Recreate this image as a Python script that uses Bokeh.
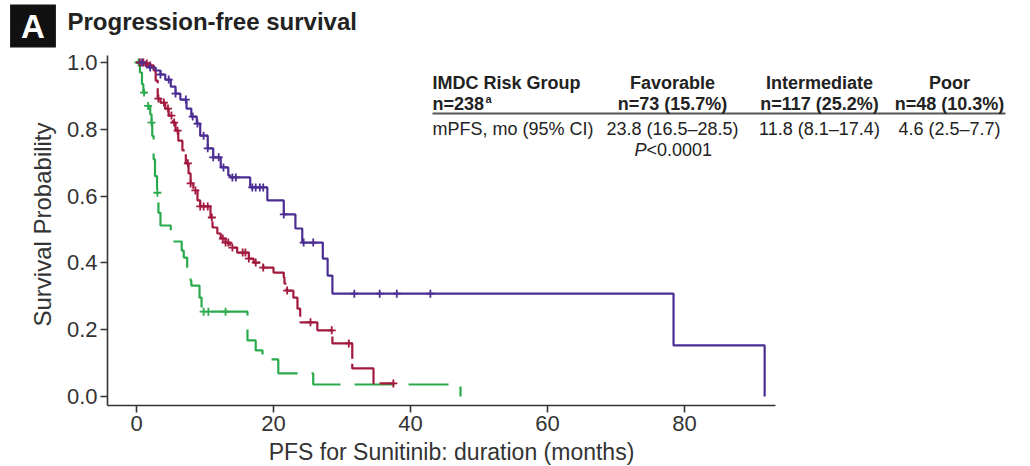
import numpy as np
from bokeh.plotting import figure
from bokeh.models import Label, Range1d, FixedTicker
from bokeh.embed import file_html
from bokeh.resources import INLINE

# ---------------- data ----------------
# Kaplan-Meier step points: time (months) and survival probability
fav_t = [0, 1.3, 2.0, 2.8, 3.5, 4.2, 5.0, 5.7, 6.4, 7.3, 8.0, 8.8, 9.3, 10.4, 11.2,
         12.3, 13.4, 13.7, 16.6, 19.1, 21.5, 23.2, 24.2, 27.2, 27.9, 28.6, 78.4, 91.7]
fav_s = [1.0, 0.99, 0.985, 0.976, 0.964, 0.949, 0.928, 0.907, 0.889, 0.862, 0.838, 0.817,
         0.781, 0.743, 0.716, 0.686, 0.662, 0.656, 0.626, 0.587, 0.545, 0.503, 0.461,
         0.413, 0.362, 0.308, 0.153, 0.0]
fav_cens = [0.8, 2.0, 3.5, 4.7, 5.7, 7.2, 8.2, 8.9, 9.8, 10.4, 11.2, 12.0, 12.7, 14.0,
            14.5, 16.9, 17.4, 18.0, 18.5, 21.5, 24.4, 25.8, 31.8, 35.5, 38.0, 42.9]

int_t = [0, 1.3, 2.0, 2.5, 2.8, 3.1, 3.5, 4.2, 4.7, 5.3, 5.7, 6.1, 6.7, 7.2, 7.6, 7.9,
         8.3, 8.9, 9.3, 10.8, 11.1, 11.8, 12.3, 13.0, 13.7, 14.7, 16.4, 17.1, 18.5, 20.0,
         21.5, 21.6, 21.9, 22.9, 23.5, 23.9, 26.4, 28.6, 31.5, 34.6, 37.5]
int_s = [1.0, 0.997, 0.991, 0.976, 0.946, 0.892, 0.880, 0.862, 0.841, 0.820, 0.796,
         0.766, 0.737, 0.698, 0.668, 0.638, 0.617, 0.587, 0.569, 0.536, 0.506, 0.488,
         0.473, 0.461, 0.446, 0.431, 0.413, 0.401, 0.386, 0.371, 0.356, 0.338, 0.317,
         0.296, 0.263, 0.222, 0.198, 0.159, 0.084, 0.039, 0.039]
int_cens = [0.5, 1.0, 1.5, 2.0, 3.2, 4.0, 4.6, 5.1, 5.5, 6.0, 7.5, 7.9, 8.6, 9.3, 9.8,
            10.4, 11.0, 12.6, 13.0, 13.4, 14.0, 15.5, 15.9, 16.4, 17.4, 18.5, 22.0, 25.4,
            28.5, 31.0, 37.5]

poor_t = [0, 0.5, 0.8, 1.0, 1.6, 2.0, 2.2, 2.3, 2.5, 2.7, 3.0, 3.2, 3.5, 5.0, 5.3, 6.6,
          6.9, 7.4, 7.9, 8.0, 9.2, 9.5, 16.2, 17.4, 18.4, 20.7, 25.8, 47.3]
poor_s = [1.0, 0.97, 0.935, 0.91, 0.87, 0.845, 0.82, 0.78, 0.71, 0.66, 0.61, 0.55, 0.512,
          0.473, 0.464, 0.437, 0.416, 0.383, 0.347, 0.332, 0.296, 0.254, 0.168, 0.138,
          0.111, 0.069, 0.036, 0.0]
poor_cens = [0.3, 1.1, 1.7, 2.2, 3.05, 9.8, 10.5, 13.0]

x_ticks = [0, 20, 40, 60, 80]
y_ticks = [0.0, 0.2, 0.4, 0.6, 0.8, 1.0]
y_tick_labels = ["0.0", "0.2", "0.4", "0.6", "0.8", "1.0"]

table_header = ["IMDC Risk Group", "Favorable", "Intermediate", "Poor"]
table_n = ["n=238", "n=73 (15.7%)", "n=117 (25.2%)", "n=48 (10.3%)"]
table_mpfs = ["mPFS, mo (95% CI)", "23.8 (16.5\u201328.5)", "11.8 (8.1\u201317.4)", "4.6 (2.5\u20137.7)"]
p_value = "<0.0001"

title_text = "Progression-free survival"
panel_letter = "A"
x_label = "PFS for Sunitinib: duration (months)"
y_label = "Survival Probability"

# ---------------- layout ----------------
W, H = 1030, 466
AX_L, AX_R, AX_T, AX_B = 107, 775, 55, 405   # axis box in px
PX0, PY0 = 136, 396         # pixel of x=0 / y=0
SX, SY = 6.85, 334.0        # px per month / px per unit probability


def dx(px):
    return (px - PX0) / SX


def dy(py):
    return (PY0 - py) / SY


FONT = "Liberation Sans"
PURPLE, RED, GREEN = "#4b2d93", "#a3193e", "#2aaa4c"
AXC = "#333333"

p = figure(width=W, height=H, output_backend="svg", toolbar_location=None,
           x_range=Range1d(dx(0), dx(W)), y_range=Range1d(dy(H), dy(0)),
           min_border_left=0, min_border_right=0, min_border_top=0,
           min_border_bottom=0, title_location=None)
p.grid.visible = False
p.outline_line_color = None
p.background_fill_color = "white"
p.border_fill_color = "white"

for ax in (p.xaxis[0], p.yaxis[0]):
    ax.axis_line_color = AXC
    ax.axis_line_width = 1.6
    ax.major_tick_line_color = AXC
    ax.major_tick_line_width = 1.6
    ax.major_tick_out = 7
    ax.major_tick_in = 0
    ax.minor_tick_line_color = None
    ax.major_label_text_font = FONT
    ax.major_label_text_font_size = "22px"
    ax.major_label_text_color = AXC
    ax.major_label_standoff = 3

p.xaxis.ticker = FixedTicker(ticks=x_ticks)
p.xaxis.bounds = (dx(AX_L), dx(AX_R))
p.xaxis.fixed_location = dy(AX_B)
p.yaxis.ticker = FixedTicker(ticks=y_ticks)
p.yaxis.bounds = (dy(AX_B), dy(AX_T))
p.yaxis.fixed_location = dx(AX_L)
p.yaxis.major_label_overrides = {t: l for t, l in zip(y_ticks, y_tick_labels)}

# ---------------- curves ----------------
curves = [
    (poor_t, poor_s, poor_cens, GREEN, "40 14"),
    (int_t, int_s, int_cens, RED, "42 5"),
    (fav_t, fav_s, fav_cens, PURPLE, "solid"),
]
for t, s, c, col, dash in curves:
    p.step(t, s, mode="after", line_color=col, line_width=2.2, line_dash=dash)
for t, s, c, col, dash in curves:
    tt = np.array(t)
    ss = np.array(s)
    idx = np.searchsorted(tt, np.array(c), side="right") - 1
    p.scatter(c, ss[idx], marker="cross", size=8, line_color=col, line_width=1.8)

# ---------------- texts ----------------


def lab(text, px, py, size="18px", style="normal", align="left", color="#222222", **kw):
    p.add_layout(Label(x=dx(px), y=dy(py), text=text, text_font=FONT,
                       text_font_size=size, text_font_style=style, text_align=align,
                       text_baseline="middle", text_color=color, **kw))


lab(panel_letter, 32.5, 25.5, size="33px", style="bold", align="center", color="white",
    background_fill_color="#111111", padding=(11, 3))
lab(title_text, 67, 21, size="24px", style="bold")

col_left = 432
col_centers = [672, 819, 949]
lab(table_header[0], col_left, 82, style="bold")
for txt, cx in zip(table_header[1:], col_centers):
    lab(txt, cx, 82, style="bold", align="center")
lab(table_n[0], col_left, 103, style="bold")
lab("a", col_left + 53, 98, size="11px", style="bold")
for txt, cx in zip(table_n[1:], col_centers):
    lab(txt, cx, 103, style="bold", align="center")
p.segment(x0=[dx(col_left)], y0=[dy(113)], x1=[dx(1005)], y1=[dy(113)],
          line_color="#555555", line_width=2)
lab(table_mpfs[0], col_left, 128)
for txt, cx in zip(table_mpfs[1:], col_centers):
    lab(txt, cx, 128, align="center")
lab("P", 634, 149, style="italic")
lab(p_value, 646, 149)

lab(x_label, 451, 451, size="23px", align="center", color=AXC)
lab(y_label, 42, 224, size="24px", align="center", color=AXC, angle=np.pi / 2)

open("out.html", "w").write(file_html(p, INLINE))
